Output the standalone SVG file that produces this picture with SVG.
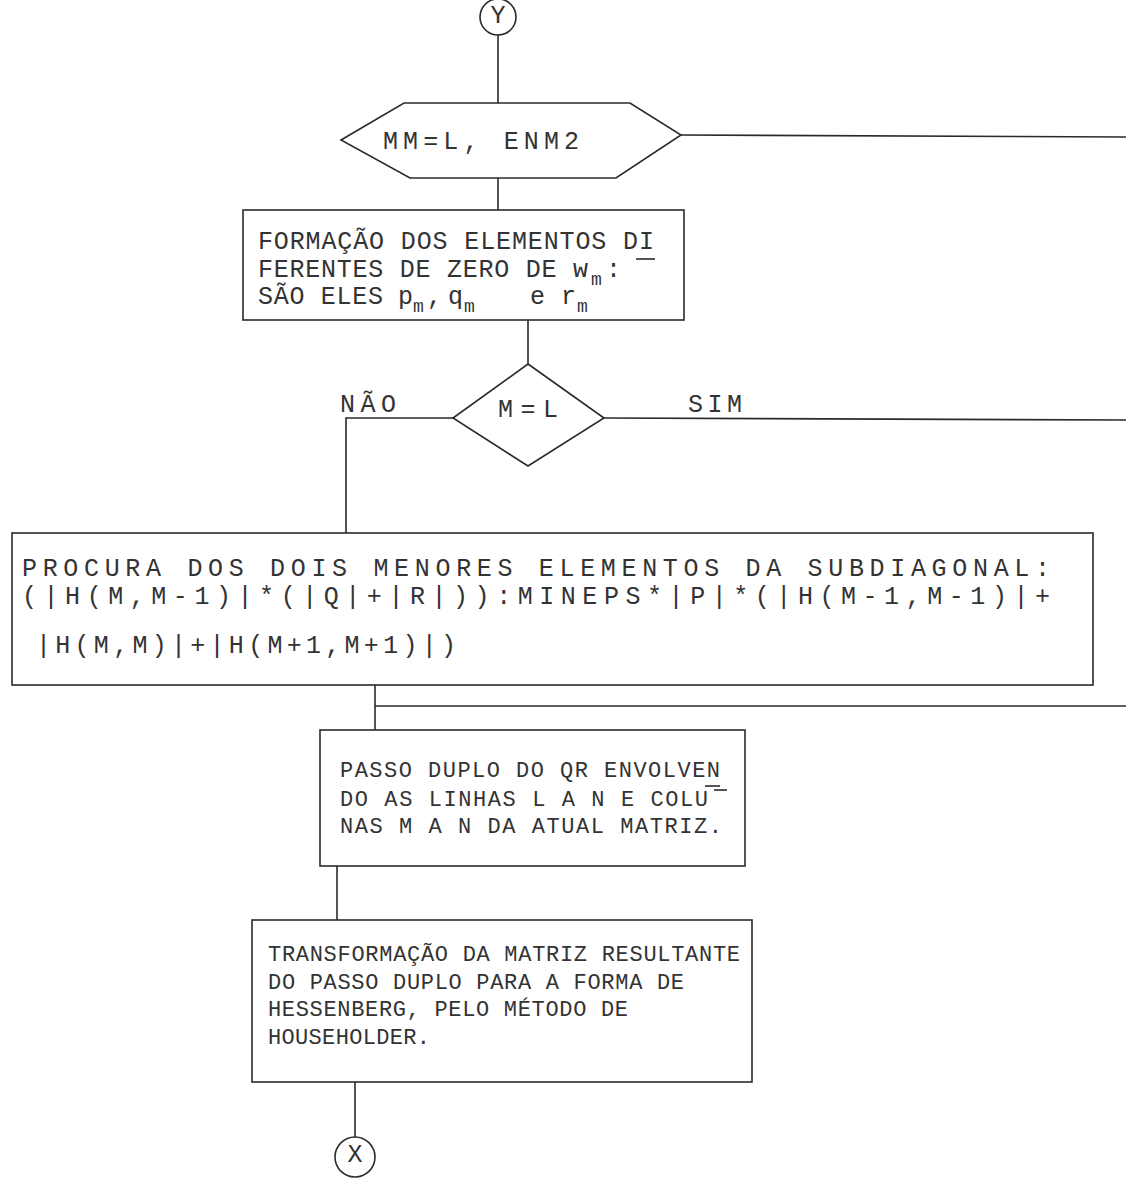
<svg xmlns="http://www.w3.org/2000/svg" width="1126" height="1190" viewBox="0 0 1126 1190">
<style>
.s{fill:none;stroke:#2a2a2a;stroke-width:1.6}
.t{font-family:"Liberation Mono","DejaVu Sans Mono",monospace;font-size:25px;fill:#333}
.m{font-size:22px}
.sub{font-size:18px}
</style>
<rect width="1126" height="1190" fill="#fff"/>
<g id="connectors" class="s">
<path d="M498 35V103"/>
<path d="M681 135L1126 137"/>
<path d="M498 178V210"/>
<path d="M528 320V364"/>
<path d="M453 418H346V533"/>
<path d="M604 418L1126 420"/>
<path d="M375 685V730"/>
<path d="M375 706H1126"/>
<path d="M337 866V920"/>
<path d="M355 1082V1137"/>
</g>
<g id="start">
<circle class="s" cx="498" cy="17" r="18"/>
<text class="t" x="498" y="23" text-anchor="middle" font-size="16">Y</text>
</g>
<g id="loop">
<polygon class="s" points="341,140 404,103 630,103 681,135 616,178 410,178"/>
<text class="t" x="383" y="149" textLength="196" lengthAdjust="spacing">MM=L,  ENM2</text>
</g>
<g id="form">
<rect class="s" x="243" y="210" width="441" height="110"/>
<text class="t" x="258" y="249" textLength="396" lengthAdjust="spacing">FORMAÇÃO DOS ELEMENTOS DI</text>
<path class="s" d="M636 259H655"/>
<text class="t" x="258" y="277" textLength="330" lengthAdjust="spacing">FERENTES DE ZERO DE w</text>
<text class="t sub" x="591" y="285">m</text>
<text class="t" x="606" y="277">:</text>
<text class="t" x="258" y="304" textLength="125" lengthAdjust="spacing">SÃO ELES</text>
<text class="t" x="398" y="304">p</text>
<text class="t sub" x="413" y="312">m</text>
<text class="t" x="427" y="304">,</text>
<text class="t" x="448" y="304">q</text>
<text class="t sub" x="464" y="312">m</text>
<text class="t" x="530" y="304">e</text>
<text class="t" x="561" y="304">r</text>
<text class="t sub" x="577" y="312">m</text>
</g>
<g id="test">
<polygon class="s" points="528,364 604,418 528,466 453,418"/>
<text class="t" x="528" y="417" text-anchor="middle" textLength="60" lengthAdjust="spacing">M=L</text>
<text class="t" x="340" y="412" textLength="56" lengthAdjust="spacing">NÃO</text>
<text class="t" x="688" y="412" textLength="54" lengthAdjust="spacing">SIM</text>
</g>
<g id="search">
<rect class="s" x="12" y="533" width="1081" height="152"/>
<text class="t" x="22" y="576" textLength="1028" lengthAdjust="spacing">PROCURA DOS DOIS MENORES ELEMENTOS DA SUBDIAGONAL:</text>
<text class="t" x="22" y="604" textLength="1028" lengthAdjust="spacing">(|H(M,M-1)|*(|Q|+|R|)):MINEPS*|P|*(|H(M-1,M-1)|+</text>
<text class="t" x="36" y="653" textLength="420" lengthAdjust="spacing">|H(M,M)|+|H(M+1,M+1)|)</text>
</g>
<g id="qr">
<rect class="s" x="320" y="730" width="425" height="136"/>
<text class="t m" x="340" y="777" textLength="380" lengthAdjust="spacing">PASSO DUPLO DO QR ENVOLVEN</text>
<path class="s" d="M705 786H720"/>
<text class="t m" x="340" y="806" textLength="368" lengthAdjust="spacing">DO AS LINHAS L A N E COLU</text>
<path class="s" d="M714 790H727"/>
<text class="t m" x="340" y="833" textLength="382" lengthAdjust="spacing">NAS M A N DA ATUAL MATRIZ.</text>
</g>
<g id="hess">
<rect class="s" x="252" y="920" width="500" height="162"/>
<text class="t m" x="268" y="961" textLength="472" lengthAdjust="spacing">TRANSFORMAÇÃO DA MATRIZ RESULTANTE</text>
<text class="t m" x="268" y="989" textLength="416" lengthAdjust="spacing">DO PASSO DUPLO PARA A FORMA DE</text>
<text class="t m" x="268" y="1016" textLength="360" lengthAdjust="spacing">HESSENBERG, PELO MÉTODO DE</text>
<text class="t m" x="268" y="1044" textLength="162" lengthAdjust="spacing">HOUSEHOLDER.</text>
</g>
<g id="end">
<circle class="s" cx="355" cy="1157" r="20"/>
<text class="t" x="355" y="1162" text-anchor="middle" font-size="14">X</text>
</g>
</svg>
